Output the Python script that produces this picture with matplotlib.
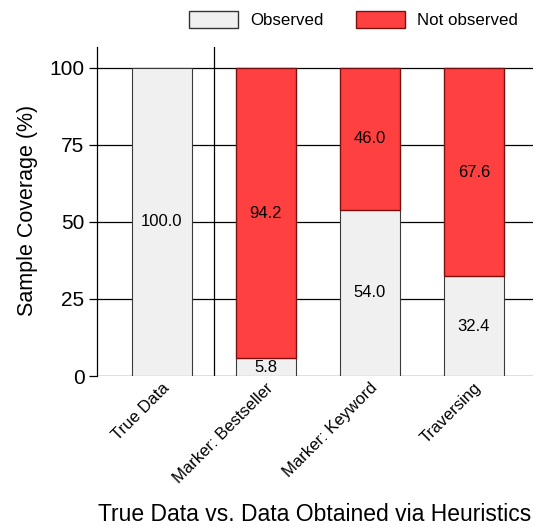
import numpy as np
import matplotlib
matplotlib.use('Agg')
import matplotlib.pyplot as plt
from matplotlib.patches import Patch

plt.rcParams['font.family'] = ['Liberation Sans', 'DejaVu Sans']

# Data
methods = ['True Data', 'Marker: Bestseller', 'Marker: Keyword', 'Traversing']
observed = [100.0, 5.8, 54.0, 32.4]
not_observed = [0.0, 94.2, 46.0, 67.6]

obs_color = '#F0F0F0'
obs_edge = '#3A3A3A'
red_color = '#FF4040'
red_edge = '#7A1010'

fig = plt.figure(figsize=(5.36, 5.29), dpi=100)
ax = fig.add_axes([97 / 536, 1 - 376 / 529, 436 / 536, 329 / 529])

x = np.arange(len(methods))
width = 0.58

# gridlines
for yv in [0, 25, 50, 75, 100]:
    ax.axhline(yv, color='black', lw=0.9, zorder=0)
ax.axvline(0.5, color='black', lw=0.9, zorder=0)

ax.bar(x, observed, width, color=obs_color, edgecolor=obs_edge, lw=0.8, zorder=2)
ax.bar(x[1:], not_observed[1:], width, bottom=observed[1:], color=red_color,
       edgecolor=red_edge, lw=1.0, zorder=2)

# value labels
for i in range(len(methods)):
    ax.text(x[i], observed[i] / 2, f'{observed[i]:.1f}', ha='center', va='center',
            fontsize=12, zorder=3)
    if not_observed[i] > 0:
        ax.text(x[i], observed[i] + not_observed[i] / 2, f'{not_observed[i]:.1f}',
                ha='center', va='center', fontsize=12, zorder=3)

ax.set_xlim(-0.625, 3.57)
ax.set_ylim(0, 106.8)
ax.set_yticks([0, 25, 50, 75, 100])
ax.tick_params(axis='y', labelsize=15, length=6, width=0.9, color='black', pad=3)
ax.tick_params(axis='x', length=0, labelsize=12, pad=3)
ax.set_xticks(x)
ax.set_xticklabels(methods, rotation=45, ha='right', rotation_mode='anchor')

for s in ['top', 'right', 'bottom']:
    ax.spines[s].set_visible(False)
ax.spines['left'].set_linewidth(0.9)

ax.set_ylabel('Sample Coverage (%)', fontsize=15.5)
ax.yaxis.set_label_coords(-0.136, 0.503)
ax.set_xlabel('True Data vs. Data Obtained via Heuristics', fontsize=16.5)
ax.xaxis.set_label_coords(0.5, -0.385)

handles = [Patch(facecolor=obs_color, edgecolor='#333333', label='Observed'),
           Patch(facecolor=red_color, edgecolor=red_edge, label='Not observed')]
fig.legend(handles=handles, loc='upper left', bbox_to_anchor=(174 / 536, 1.008), ncol=2,
           frameon=False, fontsize=12.2, handlelength=2.9, handleheight=1.2,
           columnspacing=1.9, handletextpad=0.72)

fig.savefig('out.png', dpi=100)
